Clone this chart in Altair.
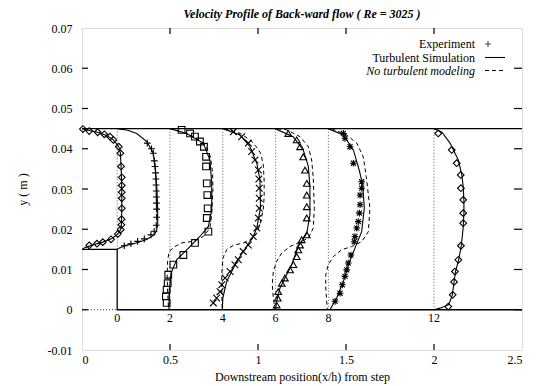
import altair as alt
import pandas as pd

# ---------------- data ----------------
# axis ticks
x_ticks = [0, 0.5, 1, 1.5, 2, 2.5]
y_ticks = [-0.01, 0, 0.01, 0.02, 0.03, 0.04, 0.05, 0.06, 0.07]

# stations (x/h) and their baseline positions on the plot
station_labels = ["0", "2", "4", "6", "8", "12"]
station_x = [0.2, 0.5, 0.8, 1.1, 1.4, 2.0]
station_ybot = [0.015, 0, 0, 0, 0, 0]
station_ytop = [0.045, 0.045, 0.045, 0.045, 0.045, 0.045]

# channel walls (solid) and the dotted line under the step
wall_top_x = [0.0, 2.5]
wall_top_y = [0.045, 0.045]
wall_step_x = [0.0, 0.2, 0.2, 2.5]
wall_step_y = [0.015, 0.015, 0.0, 0.0]
wall_dot_x = [0.0, 0.2]
wall_dot_y = [0.0, 0.0]

# ---- inlet profile (diamonds, baseline x=0) ----
d0_y = [0.0449, 0.0444, 0.0441, 0.0436, 0.0430, 0.0422, 0.0405, 0.0389, 0.0356, 0.0329,
        0.0309, 0.0292, 0.0277, 0.0252, 0.0225, 0.0211, 0.0199, 0.0188, 0.0175, 0.0168,
        0.0164, 0.0160]
d0_x = [0.005, 0.041, 0.089, 0.127, 0.159, 0.178, 0.209, 0.218, 0.222, 0.226,
        0.226, 0.226, 0.226, 0.226, 0.225, 0.224, 0.220, 0.203, 0.165, 0.118,
        0.085, 0.041]
d0line_y = [0.045, 0.0447, 0.0441, 0.0433, 0.0422, 0.0405, 0.0389, 0.0356, 0.030, 0.025,
            0.0211, 0.0199, 0.0188, 0.0177, 0.0168, 0.0161, 0.0155, 0.015]
d0line_x = [0.0, 0.02, 0.089, 0.14, 0.178, 0.209, 0.218, 0.222, 0.226, 0.226,
            0.224, 0.220, 0.203, 0.17, 0.118, 0.06, 0.02, 0.0]

# ---- station 0 (plus) ----
p0_y = [0.0414, 0.0400, 0.0389, 0.0370, 0.0356, 0.0340, 0.0325, 0.0310, 0.0295, 0.0280,
        0.0265, 0.0250, 0.0230, 0.0210, 0.0195, 0.0186, 0.0176, 0.0170, 0.0164, 0.0159]
p0_x = [0.371, 0.395, 0.405, 0.411, 0.415, 0.418, 0.420, 0.421, 0.422, 0.422,
        0.423, 0.424, 0.424, 0.422, 0.410, 0.392, 0.354, 0.316, 0.278, 0.240]
s0_y = [0.045, 0.0446, 0.0438, 0.0418, 0.0389, 0.0356, 0.0298, 0.0248, 0.0211, 0.0195,
        0.0186, 0.0174, 0.0166, 0.0160, 0.0153, 0.015]
s0_x = [0.2, 0.26, 0.311, 0.368, 0.405, 0.415, 0.426, 0.43, 0.43, 0.422,
        0.411, 0.364, 0.307, 0.25, 0.21, 0.2]

# ---- station 2 (squares) ----
q2_y = [0.0017, 0.0033, 0.0050, 0.0066, 0.0087, 0.0112, 0.0136, 0.0166, 0.0194, 0.0228,
        0.0252, 0.0285, 0.0314, 0.0356, 0.0380, 0.0405, 0.0418, 0.0430, 0.0438, 0.0447]
q2_x = [0.481, 0.477, 0.481, 0.487, 0.490, 0.519, 0.576, 0.642, 0.718, 0.709,
        0.714, 0.712, 0.709, 0.705, 0.705, 0.693, 0.670, 0.642, 0.614, 0.566]
s2_y = [0.045, 0.0438, 0.0414, 0.0372, 0.0314, 0.0248, 0.0207, 0.0182, 0.0149, 0.0124,
        0.0091, 0.005, 0.0]
s2_x = [0.5, 0.595, 0.689, 0.727, 0.737, 0.737, 0.718, 0.670, 0.595, 0.538,
        0.506, 0.496, 0.494]
n2_y = [0.045, 0.0437, 0.041, 0.038, 0.034, 0.030, 0.0236, 0.0203, 0.0182, 0.017,
        0.0166, 0.0157, 0.0145, 0.012, 0.008, 0.004, 0.0]
n2_x = [0.5, 0.60, 0.70, 0.73, 0.742, 0.744, 0.737, 0.727, 0.689, 0.632,
        0.566, 0.528, 0.495, 0.486, 0.484, 0.487, 0.492]

# ---- station 4 (x) ----
x4_y = [0.0017, 0.0029, 0.0045, 0.0062, 0.0079, 0.0095, 0.0112, 0.0124, 0.0145, 0.0161,
        0.0182, 0.0203, 0.0228, 0.0252, 0.0277, 0.0302, 0.0325, 0.0347, 0.0372, 0.0393,
        0.0414, 0.0430, 0.0442]
x4_x = [0.746, 0.765, 0.784, 0.794, 0.813, 0.841, 0.869, 0.888, 0.916, 0.945,
        0.973, 0.993, 1.002, 1.007, 1.007, 1.007, 1.005, 1.002, 0.983, 0.964,
        0.945, 0.907, 0.860]
s4_y = [0.045, 0.0434, 0.0405, 0.0364, 0.0323, 0.0253, 0.0203, 0.0182, 0.012, 0.007,
        0.0029, 0.0]
s4_x = [0.8, 0.898, 0.955, 0.993, 1.011, 1.014, 0.993, 0.973, 0.879, 0.822,
        0.8, 0.797]
n4_y = [0.045, 0.0438, 0.042, 0.0405, 0.0389, 0.036, 0.032, 0.028, 0.025, 0.0211,
        0.019, 0.0174, 0.0166, 0.016, 0.0149, 0.0128, 0.0087, 0.004, 0.0]
n4_x = [0.81, 0.9, 0.96, 0.99, 1.015, 1.03, 1.035, 1.035, 1.03, 1.011,
        0.993, 0.964, 0.916, 0.86, 0.822, 0.8, 0.794, 0.794, 0.797]

# ---- station 6 (triangles) ----
t6_y = [0.0012, 0.0029, 0.0045, 0.0066, 0.0079, 0.0099, 0.0112, 0.0132, 0.0149, 0.0161,
        0.0174, 0.0186, 0.0228, 0.0256, 0.0285, 0.0314, 0.0347, 0.0380, 0.0405, 0.0422,
        0.0438]
t6_x = [1.106, 1.112, 1.115, 1.135, 1.153, 1.182, 1.201, 1.220, 1.229, 1.239,
        1.248, 1.277, 1.277, 1.277, 1.277, 1.277, 1.267, 1.257, 1.239, 1.220,
        1.172]
s6_y = [0.045, 0.043, 0.0397, 0.0356, 0.0306, 0.0236, 0.019, 0.0157, 0.0112, 0.0079,
        0.0054, 0.0021, 0.0]
s6_x = [1.097, 1.2, 1.257, 1.286, 1.295, 1.295, 1.277, 1.229, 1.191, 1.153,
        1.125, 1.106, 1.1]
n6_y = [0.045, 0.0447, 0.043, 0.0405, 0.0372, 0.0327, 0.0252, 0.0203, 0.0178, 0.0166,
        0.0157, 0.0141, 0.012, 0.0095, 0.0062, 0.0029, 0.0]
n6_x = [1.11, 1.163, 1.239, 1.286, 1.305, 1.314, 1.32, 1.314, 1.286, 1.229,
        1.182, 1.135, 1.106, 1.087, 1.081, 1.087, 1.097]

# ---- station 8 (asterisks) ----
a8_y = [0.0021, 0.0041, 0.0062, 0.0083, 0.0099, 0.0116, 0.0136, 0.0169, 0.0182, 0.0203,
        0.0219, 0.0240, 0.0261, 0.0285, 0.0302, 0.0318, 0.0364, 0.0405, 0.0426, 0.0438]
a8_x = [1.438, 1.466, 1.479, 1.494, 1.504, 1.513, 1.528, 1.547, 1.551, 1.561,
        1.570, 1.576, 1.580, 1.580, 1.589, 1.589, 1.542, 1.523, 1.494, 1.485]
s8_y = [0.045, 0.0434, 0.0397, 0.0347, 0.031, 0.0252, 0.0194, 0.0153, 0.0112, 0.007,
        0.0029, 0.0008, 0.0]
s8_x = [1.399, 1.485, 1.542, 1.575, 1.595, 1.604, 1.589, 1.551, 1.513, 1.485,
        1.447, 1.419, 1.409]
n8_y = [0.045, 0.0434, 0.0414, 0.038, 0.0331, 0.0252, 0.0194, 0.0169, 0.0157, 0.0149,
        0.0132, 0.0112, 0.0087, 0.0054, 0.0021, 0.0]
n8_x = [1.419, 1.504, 1.561, 1.598, 1.615, 1.636, 1.627, 1.589, 1.532, 1.475,
        1.428, 1.399, 1.385, 1.385, 1.39, 1.394]

# ---- station 12 (diamonds) ----
d12_y = [0.0008, 0.0037, 0.0069, 0.0095, 0.0124, 0.0159, 0.0215, 0.0240, 0.0273, 0.0302,
         0.0335, 0.0364, 0.0397, 0.0438]
d12_x = [2.081, 2.106, 2.114, 2.119, 2.138, 2.153, 2.166, 2.166, 2.166, 2.153,
         2.152, 2.129, 2.101, 2.024]
s12_y = [0.045, 0.0441, 0.0414, 0.0372, 0.0335, 0.0306, 0.027, 0.024, 0.02, 0.0159,
         0.0124, 0.0095, 0.0069, 0.0037, 0.0021, 0.0012, 0.0004, 0.0]
s12_x = [2.0, 2.045, 2.091, 2.138, 2.158, 2.166, 2.17, 2.17, 2.165, 2.155,
         2.14, 2.122, 2.114, 2.104, 2.091, 2.081, 2.034, 2.0]

legend_labels = ["Experiment", "Turbulent Simulation", "No turbulent modeling"]

# ---------------- build tables ----------------
def curve(name, ys, xs):
    return pd.DataFrame({"c": name, "y": ys, "x": xs, "o": list(range(len(ys)))})

solid_df = pd.concat([
    curve("d0", d0line_y, d0line_x), curve("s0", s0_y, s0_x), curve("s2", s2_y, s2_x),
    curve("s4", s4_y, s4_x), curve("s6", s6_y, s6_x), curve("s8", s8_y, s8_x),
    curve("s12", s12_y, s12_x)])
dash_df = pd.concat([
    curve("n2", n2_y, n2_x), curve("n4", n4_y, n4_x), curve("n6", n6_y, n6_x),
    curve("n8", n8_y, n8_x)])
wall_df = pd.concat([curve("top", wall_top_y, wall_top_x), curve("step", wall_step_y, wall_step_x)])
wall_dot_df = curve("dot", wall_dot_y, wall_dot_x)

PLUS = "M-1,0L1,0M0,-1L0,1"
XMARK = "M-1,-1L1,1M-1,1L1,-1"
STAR = "M-1,0L1,0M0,-1L0,1M-0.75,-0.75L0.75,0.75M-0.75,0.75L0.75,-0.75"

pts_df = pd.concat([
    curve("diamond", d0_y, d0_x), curve(PLUS, p0_y, p0_x), curve("square", q2_y, q2_x),
    curve(XMARK, x4_y, x4_x), curve("triangle-up", t6_y, t6_x), curve(STAR, a8_y, a8_x),
    curve("diamond", d12_y, d12_x)])

station_df = pd.DataFrame({"lab": station_labels, "x": station_x,
                           "y": station_ybot, "y2": station_ytop})
xt_df = pd.DataFrame({"v": x_ticks[1:-1]})
yt_df = pd.DataFrame({"v": y_ticks[1:-1]})

FONT = "Liberation Serif, Times New Roman, DejaVu Serif, serif"
W, H = 440, 322

xs = alt.Scale(domain=[0, 2.5], nice=False, zero=False)
ys = alt.Scale(domain=[-0.01, 0.07], nice=False, zero=False)

X = alt.X("x:Q", scale=xs, axis=alt.Axis(
    values=x_ticks, labelExpr="'' + datum.value", ticks=False, domain=False, grid=False,
    labelPadding=4, labelFont=FONT, labelFontSize=12, labelColor="black",
    title="Downstream position(x/h) from step", titleFont=FONT, titleFontSize=12,
    titleFontWeight="normal", titleColor="black", titlePadding=6))
Y = alt.Y("y:Q", scale=ys, axis=alt.Axis(
    values=y_ticks, labelExpr="'' + datum.value", ticks=False, domain=False, grid=False,
    labelPadding=10, labelFont=FONT, labelFontSize=12, labelColor="black",
    title="y ( m )", titleFont=FONT, titleFontSize=12, titleFontWeight="normal",
    titleColor="black", titleX=-53, titleY=H / 2))

base_axes = alt.Chart(station_df).mark_rule(strokeDash=[1, 2], strokeWidth=0.8, color="#333").encode(
    x=X, y=Y, y2="y2:Q")

walls = alt.Chart(wall_df).mark_line(color="black", strokeWidth=1.3).encode(
    x=alt.X("x:Q", scale=xs), y=alt.Y("y:Q", scale=ys), detail="c:N", order="o:Q")
walls_dot = alt.Chart(wall_dot_df).mark_line(color="black", strokeWidth=0.8, strokeDash=[1, 2]).encode(
    x=alt.X("x:Q", scale=xs), y=alt.Y("y:Q", scale=ys), order="o:Q")

solid = alt.Chart(solid_df).mark_line(color="black", strokeWidth=1.1, interpolate="linear").encode(
    x=alt.X("x:Q", scale=xs), y=alt.Y("y:Q", scale=ys), detail="c:N", order="o:Q")
dashed = alt.Chart(dash_df).mark_line(color="black", strokeWidth=1.0, strokeDash=[4, 3]).encode(
    x=alt.X("x:Q", scale=xs), y=alt.Y("y:Q", scale=ys), detail="c:N", order="o:Q")

shape_domain = ["diamond", PLUS, "square", XMARK, "triangle-up", STAR]
points = alt.Chart(pts_df).mark_point(filled=False, color="black", strokeWidth=1.1, opacity=1, size=45).encode(
    x=alt.X("x:Q", scale=xs), y=alt.Y("y:Q", scale=ys),
    shape=alt.Shape("c:N", scale=alt.Scale(domain=shape_domain, range=shape_domain), legend=None))

st_labels = alt.Chart(station_df).mark_text(font=FONT, fontSize=12, color="black", baseline="middle").encode(
    x=alt.X("x:Q", scale=xs), y=alt.value(290), text="lab:N")

# inward tick marks on the frame
t_left = alt.Chart(yt_df).mark_rule(color="black", strokeWidth=1.2).encode(
    y=alt.Y("v:Q", scale=ys), x=alt.value(0), x2=alt.value(6))
t_right = alt.Chart(yt_df).mark_rule(color="black", strokeWidth=1.2).encode(
    y=alt.Y("v:Q", scale=ys), x=alt.value(W), x2=alt.value(W - 8))
t_bot = alt.Chart(xt_df).mark_rule(color="black", strokeWidth=1.2).encode(
    x=alt.X("v:Q", scale=xs), y=alt.value(H), y2=alt.value(H - 6))
t_top = alt.Chart(xt_df).mark_rule(color="black", strokeWidth=1.2).encode(
    x=alt.X("v:Q", scale=xs), y=alt.value(0), y2=alt.value(6))

# legend
leg_df = pd.DataFrame({"lab": legend_labels, "ly": [16, 29.5, 42.5]})
leg_text = alt.Chart(leg_df.iloc[0:2]).mark_text(font=FONT, fontSize=12, color="black", align="right",
                                                 baseline="middle").encode(
    x=alt.value(393), y=alt.Y("ly:Q", scale=None), text="lab:N")
leg_text_it = alt.Chart(leg_df.iloc[2:3]).mark_text(font=FONT, fontSize=12, color="black", align="right",
                                                    baseline="middle", fontStyle="italic").encode(
    x=alt.value(393), y=alt.Y("ly:Q", scale=None), text="lab:N")
leg_plus = alt.Chart(leg_df.iloc[[0]]).mark_point(shape=PLUS, size=36, color="black", strokeWidth=1.1).encode(
    x=alt.value(406), y=alt.value(16))
leg_solid = alt.Chart(leg_df.iloc[[1]]).mark_rule(color="black", strokeWidth=1.1).encode(
    x=alt.value(403), x2=alt.value(423), y=alt.value(29.5))
leg_dash = alt.Chart(leg_df.iloc[[2]]).mark_rule(color="black", strokeWidth=1.0, strokeDash=[4, 3]).encode(
    x=alt.value(403), x2=alt.value(423), y=alt.value(42.5))

chart = alt.layer(
    base_axes, walls, walls_dot, solid, dashed, points, st_labels,
    t_left, t_right, t_bot, t_top, leg_text, leg_text_it, leg_plus, leg_solid, leg_dash
).properties(
    width=W, height=H,
    title=alt.TitleParams("Velocity Profile of Back-ward flow ( Re = 3025 )", font=FONT, fontSize=12,
                          fontWeight="bold", fontStyle="italic", color="black", offset=1, anchor="middle"),
    autosize=alt.AutoSizeParams(type="none"),
    padding={"left": 74, "top": 20, "right": 14, "bottom": 38},
).configure_view(stroke="black", strokeWidth=1.5).configure(background="white")

chart.save("out.html", embed_options={"renderer": "svg", "actions": False})
